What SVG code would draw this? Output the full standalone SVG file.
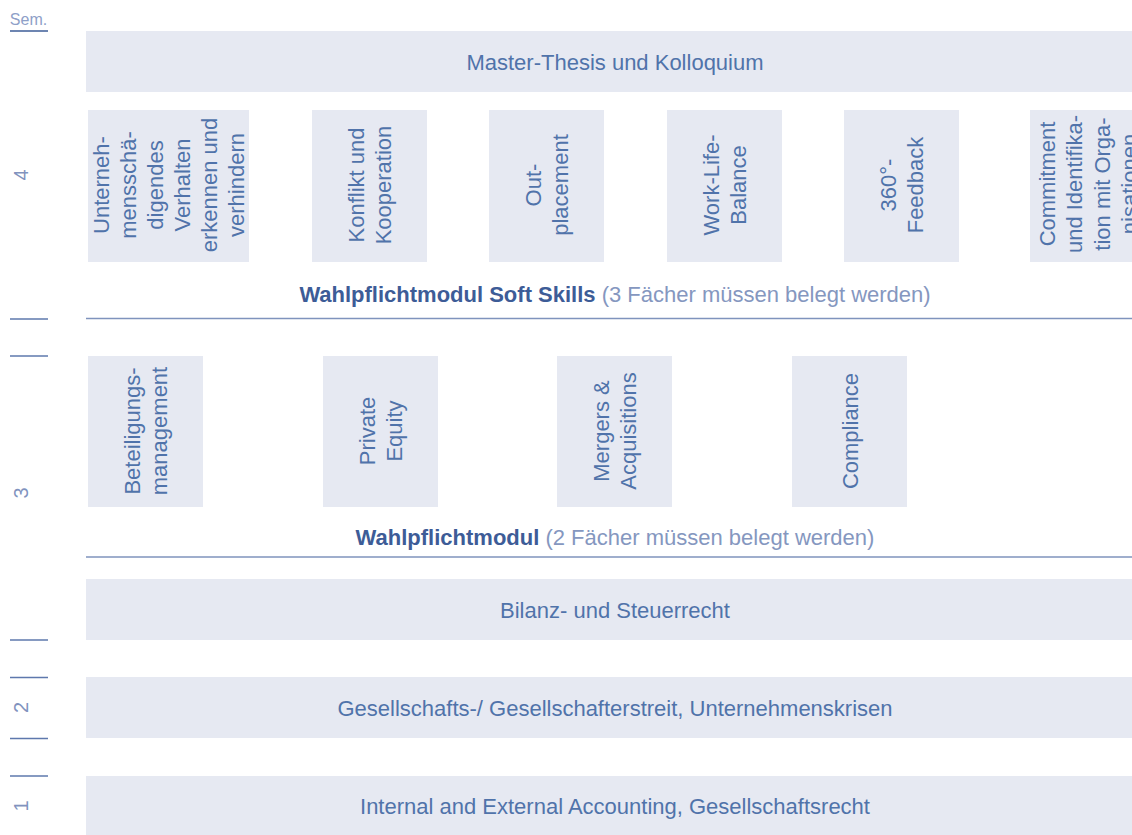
<svg xmlns="http://www.w3.org/2000/svg" width="1132" height="835" viewBox="0 0 1132 835">
<style>
.bar{fill:#e6e9f2}
.box{fill:#e6e9f2}
.t{font-family:"Liberation Sans",Arial,sans-serif;font-size:22px;fill:#5073aa;text-anchor:middle}
.rt{font-family:"Liberation Sans",Arial,sans-serif;font-size:22px;fill:#5073aa;text-anchor:middle}
.hb{font-weight:bold;fill:#3d5c97}
.hl{fill:#8597bf}
.num{font-family:"Liberation Sans",Arial,sans-serif;font-size:20px;fill:#8193be;text-anchor:middle}
.tick{stroke:#5e78ad;stroke-width:1.5}
.sep{stroke:#7f93bd;stroke-width:1.6}
</style>
<rect width="1132" height="835" fill="#ffffff"/>
<g id="legend">
<text x="28.5" y="25" font-family="Liberation Sans, Arial, sans-serif" font-size="16" fill="#8ea0c8" text-anchor="middle">Sem.</text>
<line x1="10" y1="31" x2="48" y2="31" stroke="#3d5c97" stroke-width="1.5"/>
<text class="num" transform="translate(28,175) rotate(-90)">4</text>
<text class="num" transform="translate(28,493) rotate(-90)">3</text>
<text class="num" transform="translate(28,707.5) rotate(-90)">2</text>
<text class="num" transform="translate(28,806) rotate(-90)">1</text>
<line class="tick" x1="10" y1="319" x2="48" y2="319"/>
<line class="tick" x1="10" y1="356" x2="48" y2="356"/>
<line class="tick" x1="10" y1="640" x2="48" y2="640"/>
<line class="tick" x1="10" y1="677.5" x2="48" y2="677.5"/>
<line class="tick" x1="10" y1="738.5" x2="48" y2="738.5"/>
<line class="tick" x1="10" y1="776" x2="48" y2="776"/>
</g>
<g id="connectors">
<line class="sep" x1="86" y1="318.5" x2="1132" y2="318.5"/>
<line class="sep" x1="86" y1="557" x2="1132" y2="557"/>
</g>
<g id="thesis">
<rect class="bar" x="86" y="31" width="1060" height="61"/>
<text class="t" x="615" y="70">Master-Thesis und Kolloquium</text>
</g>
<g id="soft1">
<rect class="box" x="88" y="110" width="161" height="152"/>
<text class="rt" transform="translate(168.5,185) rotate(-90)"><tspan x="0" y="-59.5">Unterneh-</tspan><tspan x="0" y="-32.5">mensschä-</tspan><tspan x="0" y="-5.5">digendes</tspan><tspan x="0" y="21.5">Verhalten</tspan><tspan x="0" y="48.5">erkennen und</tspan><tspan x="0" y="75.5">verhindern</tspan></text>
</g>
<g id="soft2">
<rect class="box" x="312" y="110" width="115" height="152"/>
<text class="rt" transform="translate(369.5,185) rotate(-90)"><tspan x="0" y="-5.5">Konflikt und</tspan><tspan x="0" y="21.5">Kooperation</tspan></text>
</g>
<g id="soft3">
<rect class="box" x="489" y="110" width="115" height="152"/>
<text class="rt" transform="translate(546.5,185) rotate(-90)"><tspan x="0" y="-5.5">Out-</tspan><tspan x="0" y="21.5">placement</tspan></text>
</g>
<g id="soft4">
<rect class="box" x="667" y="110" width="115" height="152"/>
<text class="rt" transform="translate(724.5,185) rotate(-90)"><tspan x="0" y="-5.5">Work-Life-</tspan><tspan x="0" y="21.5">Balance</tspan></text>
</g>
<g id="soft5">
<rect class="box" x="844" y="110" width="115" height="152"/>
<text class="rt" transform="translate(901.5,185) rotate(-90)"><tspan x="0" y="-5.5">360°-</tspan><tspan x="0" y="21.5">Feedback</tspan></text>
</g>
<g id="soft6">
<rect class="box" x="1030" y="110" width="115" height="152"/>
<text class="rt" transform="translate(1087.5,184) rotate(-90)"><tspan x="0" y="-33">Commitment</tspan><tspan x="0" y="-5.5">und Identifika-</tspan><tspan x="0" y="22">tion mit Orga-</tspan><tspan x="0" y="49.5">nisationen</tspan></text>
</g>
<g id="heading-soft">
<text class="t" x="615" y="302"><tspan class="hb">Wahlpflichtmodul Soft Skills</tspan><tspan class="hl"> (3 Fächer müssen belegt werden)</tspan></text>
</g>
<g id="mod1">
<rect class="box" x="88" y="356" width="115" height="151"/>
<text class="rt" transform="translate(145.5,431) rotate(-90)"><tspan x="0" y="-5.5">Beteiligungs-</tspan><tspan x="0" y="21.5">management</tspan></text>
</g>
<g id="mod2">
<rect class="box" x="323" y="356" width="115" height="151"/>
<text class="rt" transform="translate(380.5,431) rotate(-90)"><tspan x="0" y="-5.5">Private</tspan><tspan x="0" y="21.5">Equity</tspan></text>
</g>
<g id="mod3">
<rect class="box" x="557" y="356" width="115" height="151"/>
<text class="rt" transform="translate(614.5,431) rotate(-90)"><tspan x="0" y="-5.5">Mergers &amp;</tspan><tspan x="0" y="21.5">Acquisitions</tspan></text>
</g>
<g id="mod4">
<rect class="box" x="792" y="356" width="115" height="151"/>
<text class="rt" transform="translate(849.5,431) rotate(-90)"><tspan x="0" y="8">Compliance</tspan></text>
</g>
<g id="heading-mod">
<text class="t" x="615" y="545"><tspan class="hb">Wahlpflichtmodul</tspan><tspan class="hl"> (2 Fächer müssen belegt werden)</tspan></text>
</g>
<g id="bilanz">
<rect class="bar" x="86" y="579" width="1060" height="61"/>
<text class="t" x="615" y="618">Bilanz- und Steuerrecht</text>
</g>
<g id="gesellschaft">
<rect class="bar" x="86" y="677" width="1060" height="61"/>
<text class="t" x="615" y="716">Gesellschafts-/ Gesellschafterstreit, Unternehmenskrisen</text>
</g>
<g id="accounting">
<rect class="bar" x="86" y="776" width="1060" height="70"/>
<text class="t" x="615" y="814">Internal and External Accounting, Gesellschaftsrecht</text>
</g>
</svg>
